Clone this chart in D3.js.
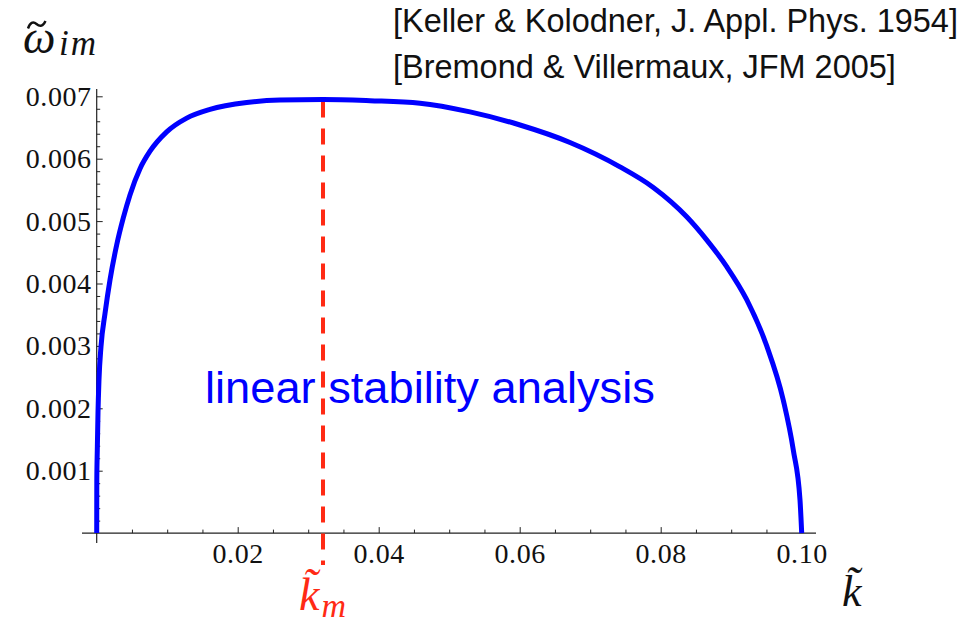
<!DOCTYPE html>
<html>
<head>
<meta charset="utf-8">
<script src="https://cdn.jsdelivr.net/npm/d3@7"></script>
<style>
body { margin: 0; background: #fff; }
.axis path, .axis line { stroke: #222; }
</style>
</head>
<body>
<div id="chart"></div>
<script>
// wavenumber k and growth rate omega_im
var k_values = [0, 0.000014, 0.000085, 0.000184, 0.000326, 0.00061, 0.00118, 0.00189, 0.00284, 0.00377,
    0.00472, 0.00614, 0.00756, 0.00993, 0.01277, 0.01607, 0.02128, 0.026, 0.0321, 0.03877,
    0.04586, 0.05295, 0.06004, 0.06713, 0.07422, 0.07895, 0.08369, 0.08652, 0.08936, 0.0922,
    0.09504, 0.09739, 0.09881, 0.09976, 0.1];
var omega_values = [0, 0.000851, 0.00133, 0.00193, 0.00246, 0.00299, 0.00352, 0.00406, 0.00462, 0.00505,
    0.00542, 0.00584, 0.00612, 0.00643, 0.00665, 0.00679, 0.0069, 0.00694, 0.00695, 0.00693,
    0.00689, 0.00675, 0.00654, 0.00626, 0.00587, 0.00554, 0.00507, 0.0047, 0.00427, 0.00374,
    0.003, 0.00213, 0.00133, 0.00053, 0];
var k_max = 0.0321;
var omega_max = 0.00695;

var x_ticks = [0.02, 0.04, 0.06, 0.08, 0.10];
var x_tick_labels = ["0.02", "0.04", "0.06", "0.08", "0.10"];
var y_ticks = [0.001, 0.002, 0.003, 0.004, 0.005, 0.006, 0.007];
var y_tick_labels = ["0.001", "0.002", "0.003", "0.004", "0.005", "0.006", "0.007"];
var references = ["[Keller & Kolodner, J. Appl. Phys. 1954]", "[Bremond & Villermaux, JFM 2005]"];

var width = 973, height = 626;

var svg = d3.select("#chart")
    .append("svg")
    .attr("width", width)
    .attr("height", height);

var xScale = d3.scaleLinear()
    .domain([0, 0.1])
    .range([96.7, 801.7]);

var yScale = d3.scaleLinear()
    .domain([0, 0.007])
    .range([533.1, 96.3]);

var serif = "'Liberation Serif', 'DejaVu Serif', serif";
var sans = "'Liberation Sans', Arial, sans-serif";

// axis lines (Mathematica style, a bit longer than the range)
svg.append("line")
    .attr("x1", 82).attr("x2", 816)
    .attr("y1", yScale(0)).attr("y2", yScale(0))
    .attr("stroke", "#222").attr("stroke-width", 1.2);
svg.append("line")
    .attr("x1", xScale(0)).attr("x2", xScale(0))
    .attr("y1", 89).attr("y2", 543)
    .attr("stroke", "#222").attr("stroke-width", 1.2);

// minor ticks
var xMinor = d3.range(0.005, 0.1001, 0.005).filter(function(d) {
    return Math.abs(d / 0.02 - Math.round(d / 0.02)) > 1e-6;
});
var yMinor = d3.range(0.0002, 0.00701, 0.0002).filter(function(d) {
    return Math.abs(d / 0.001 - Math.round(d / 0.001)) > 1e-6;
});

var xAxisMinor = d3.axisBottom(xScale).tickValues(xMinor).tickSizeInner(-3.5).tickSizeOuter(0).tickFormat("");
var yAxisMinor = d3.axisLeft(yScale).tickValues(yMinor).tickSizeInner(-3.5).tickSizeOuter(0).tickFormat("");

var xAxis = d3.axisBottom(xScale)
    .tickValues(x_ticks)
    .tickSizeInner(-6)
    .tickSizeOuter(0)
    .tickPadding(10)
    .tickFormat(function(d, i) { return x_tick_labels[i]; });

var yAxis = d3.axisLeft(yScale)
    .tickValues(y_ticks)
    .tickSizeInner(-6)
    .tickSizeOuter(0)
    .tickPadding(5)
    .tickFormat(function(d, i) { return y_tick_labels[i]; });

[xAxisMinor, xAxis].forEach(function(ax) {
    svg.append("g")
        .attr("class", "axis")
        .attr("transform", "translate(0," + yScale(0) + ")")
        .call(ax)
        .call(function(g) { g.select(".domain").remove(); });
});
[yAxisMinor, yAxis].forEach(function(ax) {
    svg.append("g")
        .attr("class", "axis")
        .attr("transform", "translate(" + xScale(0) + ",0)")
        .call(ax)
        .call(function(g) { g.select(".domain").remove(); });
});

svg.selectAll(".axis text")
    .style("font-family", serif)
    .style("font-size", "28px")
    .style("letter-spacing", "0.6px")
    .attr("fill", "#111");

// red dashed line at k_m
svg.append("line")
    .attr("x1", xScale(k_max)).attr("x2", xScale(k_max))
    .attr("y1", yScale(omega_max) + 2).attr("y2", yScale(0) + 32)
    .attr("stroke", "#ff2a14")
    .attr("stroke-width", 4)
    .attr("stroke-dasharray", "16,11");

// growth rate curve
var curve_data = k_values.map(function(k, i) { return { k: k, w: omega_values[i] }; });
var line = d3.line()
    .x(function(d) { return xScale(d.k); })
    .y(function(d) { return yScale(d.w); })
    .curve(d3.curveMonotoneX);

svg.append("path")
    .datum(curve_data)
    .attr("d", line)
    .attr("fill", "none")
    .attr("stroke", "#0000ff")
    .attr("stroke-width", 5)
    .attr("stroke-linejoin", "round");

// helper: fit text to a width
function fit(sel, targetWidth) {
    var w = sel.node().getComputedTextLength();
    var fs = parseFloat(sel.style("font-size"));
    sel.style("font-size", (fs * targetWidth / w) + "px");
}

var label = svg.append("text")
    .attr("x", 205).attr("y", 403)
    .style("font-family", sans)
    .style("font-size", "40px")
    .attr("fill", "#0000ff")
    .text("linear stability analysis");
fit(label, 450);

var ref1 = svg.append("text")
    .attr("x", 393).attr("y", 32)
    .style("font-family", sans)
    .style("font-size", "28px")
    .attr("fill", "#111")
    .text(references[0]);
fit(ref1, 565);
svg.append("text")
    .attr("x", 393).attr("y", 78)
    .style("font-family", sans)
    .style("font-size", ref1.style("font-size"))
    .attr("fill", "#111")
    .text(references[1]);

// y label: omega tilde sub im
svg.append("text")
    .attr("x", 23).attr("y", 53)
    .style("font-family", serif).style("font-style", "italic")
    .style("font-size", "46px")
    .attr("fill", "#111")
    .text("ω");
svg.append("path")
    .attr("d", "M28,28.5 C30,22.5 33,21 36.5,24 C40,27 43,26.5 45.5,21")
    .attr("fill", "none")
    .attr("stroke", "#111")
    .attr("stroke-width", 2.4);
svg.append("text")
    .attr("x", 59).attr("y", 55)
    .style("font-family", serif).style("font-style", "italic")
    .style("font-size", "35px")
    .style("letter-spacing", "2px")
    .attr("fill", "#111")
    .text("im");

// x label: k tilde
svg.append("text")
    .attr("x", 842).attr("y", 606)
    .style("font-family", serif).style("font-style", "italic")
    .style("font-size", "44px")
    .attr("fill", "#111")
    .text("k\u0303");

// k_m label in red
svg.append("text")
    .attr("x", 299).attr("y", 610)
    .style("font-family", serif).style("font-style", "italic")
    .attr("fill", "#ff2a14")
    .call(function(t) {
        t.append("tspan").style("font-size", "46px").text("k\u0303");
        t.append("tspan").attr("dx", 2).attr("dy", 7).style("font-size", "34px").text("m");
    });
</script>
</body>
</html>
